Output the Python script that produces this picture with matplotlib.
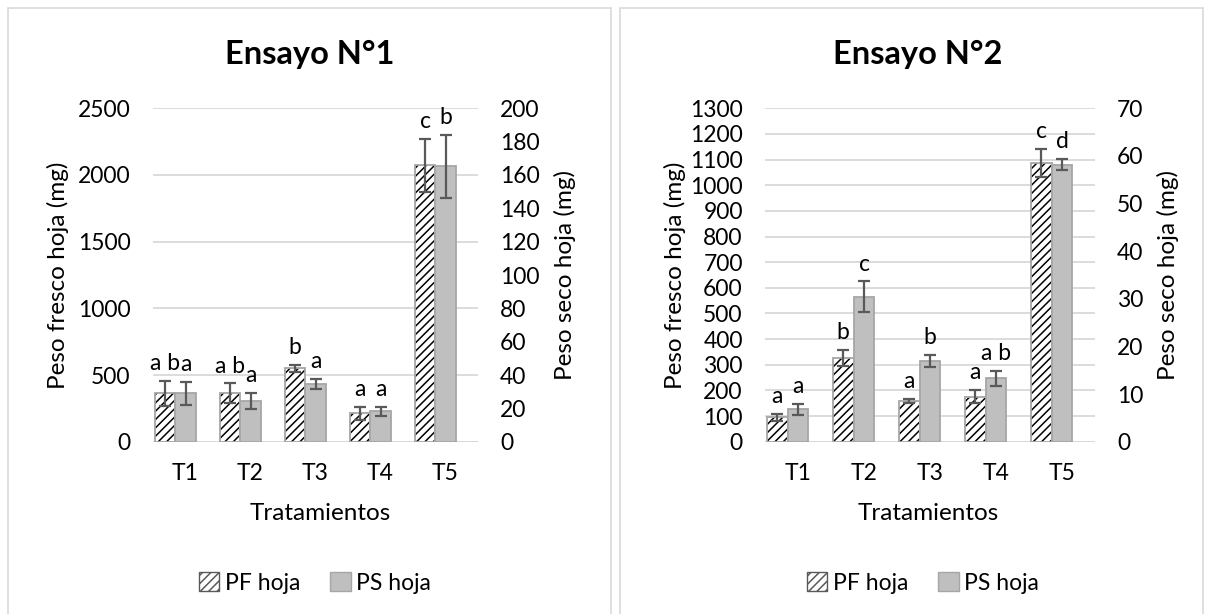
import numpy as np
import matplotlib
matplotlib.use("Agg")
import matplotlib.pyplot as plt
from matplotlib.patches import Patch, Rectangle

plt.rcParams['font.family'] = ['Lato', 'DejaVu Sans']
plt.rcParams['hatch.linewidth'] = 1.1

W, H = 1210, 614

categories = ["T1", "T2", "T3", "T4", "T5"]

# Ensayo 1
pf1 = [362, 362, 550, 212, 2073]
pf1_err = [95, 75, 25, 50, 200]
ps1 = [29.0, 24.6, 34.6, 18.2, 165.2]
ps1_err = [7.0, 4.8, 3.0, 2.8, 19.0]
pf1_letters = ["a b", "a b", "b", "a", "c"]
ps1_letters = ["a", "a", "a", "a", "b"]
pf1_ticks = [0, 500, 1000, 1500, 2000, 2500]
ps1_ticks = [0, 20, 40, 60, 80, 100, 120, 140, 160, 180, 200]

# Ensayo 2
pf2 = [95, 328, 159, 176, 1088]
pf2_err = [13, 31, 8, 25, 54]
ps2 = [6.8, 30.4, 16.9, 13.3, 58.2]
ps2_err = [1.15, 3.25, 1.3, 1.6, 1.1]
pf2_letters = ["a", "b", "a", "a", "c"]
ps2_letters = ["a", "c", "b", "a b", "d"]
pf2_ticks = list(range(0, 1301, 100))
ps2_ticks = [0, 10, 20, 30, 40, 50, 60, 70]

GRID = "#d9d9d9"
GRAY = "#bfbfbf"
EDGE = "#a6a6a6"
ERR = "#595959"
TICK_FS = 16.5
LABEL_FS = 17.5


def fx(px):
    return px / W


def fy(py):
    return 1 - py / H


def draw_panel(fig, left, right, pf, pf_err, ps, ps_err, pf_letters, ps_letters,
               pf_ticks, ps_ticks, title, cx, ylab_l, ylab_r):
    """
    Draws one Excel-style panel with bars on a left and a right axis
    """
    top, base = 108.3, 441.7
    ax = fig.add_axes([fx(left), fy(base), fx(right - left), (base - top) / H])
    ax2 = ax.twinx()
    x = np.arange(len(categories))
    w = 0.315

    # fresh weight: hatched bars on the left axis
    ax.bar(x - w, pf, w, color="white", edgecolor="black", hatch="////", linewidth=0, zorder=2)
    ax.bar(x - w, pf, w, fill=False, edgecolor=EDGE, linewidth=1.3, zorder=3)
    ax.errorbar(x - w, pf, yerr=pf_err, fmt="none", ecolor=ERR, elinewidth=1.6,
                capsize=4, capthick=1.6, zorder=4)
    # dry weight: gray bars on the right axis
    ax2.bar(x, ps, w, color=GRAY, edgecolor=EDGE, linewidth=1.3, zorder=2)
    ax2.errorbar(x, ps, yerr=ps_err, fmt="none", ecolor=ERR, elinewidth=1.6,
                 capsize=4, capthick=1.6, zorder=4)

    for xi, v, e, t in zip(x - w, pf, pf_err, pf_letters):
        ax.annotate(t, (xi, v + e), xytext=(0, 12.5), textcoords="offset points",
                    ha="center", va="center", fontsize=TICK_FS)
    for xi, v, e, t in zip(x, ps, ps_err, ps_letters):
        ax2.annotate(t, (xi, v + e), xytext=(0, 12.5), textcoords="offset points",
                     ha="center", va="center", fontsize=TICK_FS)

    ax.set_xlim(-0.5, len(categories) - 0.5)
    ax.set_ylim(pf_ticks[0], pf_ticks[-1])
    ax2.set_ylim(ps_ticks[0], ps_ticks[-1])
    ax.set_yticks(pf_ticks)
    ax2.set_yticks(ps_ticks)
    ax.set_xticks(x)
    ax.set_xticklabels(categories)
    ax.grid(axis="y", color=GRID, linewidth=1.3, zorder=0)
    ax.set_axisbelow(True)
    for a in (ax, ax2):
        for s in a.spines.values():
            s.set_visible(False)
        a.tick_params(length=0, labelsize=TICK_FS, pad=16)
        a.patch.set_visible(False)
    ax.tick_params(axis="x", pad=15)
    ax.axhline(0, color=GRID, linewidth=1.3, zorder=1)

    mid = (top + base) / 2
    fig.text(fx(cx), fy(54.5), title, ha="center", va="center", fontsize=23.5, fontweight="bold")
    fig.text(fx(cx + 10), fy(513), "Tratamientos", ha="center", va="center", fontsize=LABEL_FS)
    fig.text(fx(ylab_l), fy(mid), "Peso fresco hoja (mg)", rotation=90,
             ha="center", va="center", fontsize=LABEL_FS)
    fig.text(fx(ylab_r), fy(mid), "Peso seco hoja (mg)", rotation=90,
             ha="center", va="center", fontsize=LABEL_FS)

    handles = [Patch(facecolor="white", edgecolor=ERR, hatch="////", label="PF hoja"),
               Patch(facecolor=GRAY, edgecolor=EDGE, label="PS hoja")]
    fig.legend(handles=handles, loc="center", bbox_to_anchor=(fx(cx + 5), fy(583)),
               ncol=2, frameon=False, fontsize=TICK_FS, handlelength=0.9, handleheight=0.9,
               handletextpad=0.25, columnspacing=1.3)


fig = plt.figure(figsize=(W / 100, H / 100), dpi=100)

# panel frames
fig.patches.append(Rectangle((fx(8), fy(640)), fx(603), (640 - 8) / H, transform=fig.transFigure,
                             fill=False, edgecolor=GRID, linewidth=1.2))
fig.patches.append(Rectangle((fx(620), fy(640)), fx(583), (640 - 8) / H, transform=fig.transFigure,
                             fill=False, edgecolor=GRID, linewidth=1.2))

draw_panel(fig, 153, 478, pf1, pf1_err, ps1, ps1_err, pf1_letters, ps1_letters,
           pf1_ticks, ps1_ticks, "Ensayo N°1", 310, 57.5, 564.5)
draw_panel(fig, 765, 1095, pf2, pf2_err, ps2, ps2_err, pf2_letters, ps2_letters,
           pf2_ticks, ps2_ticks, "Ensayo N°2", 918, 674.5, 1168)

fig.savefig("out.png", dpi=100)
